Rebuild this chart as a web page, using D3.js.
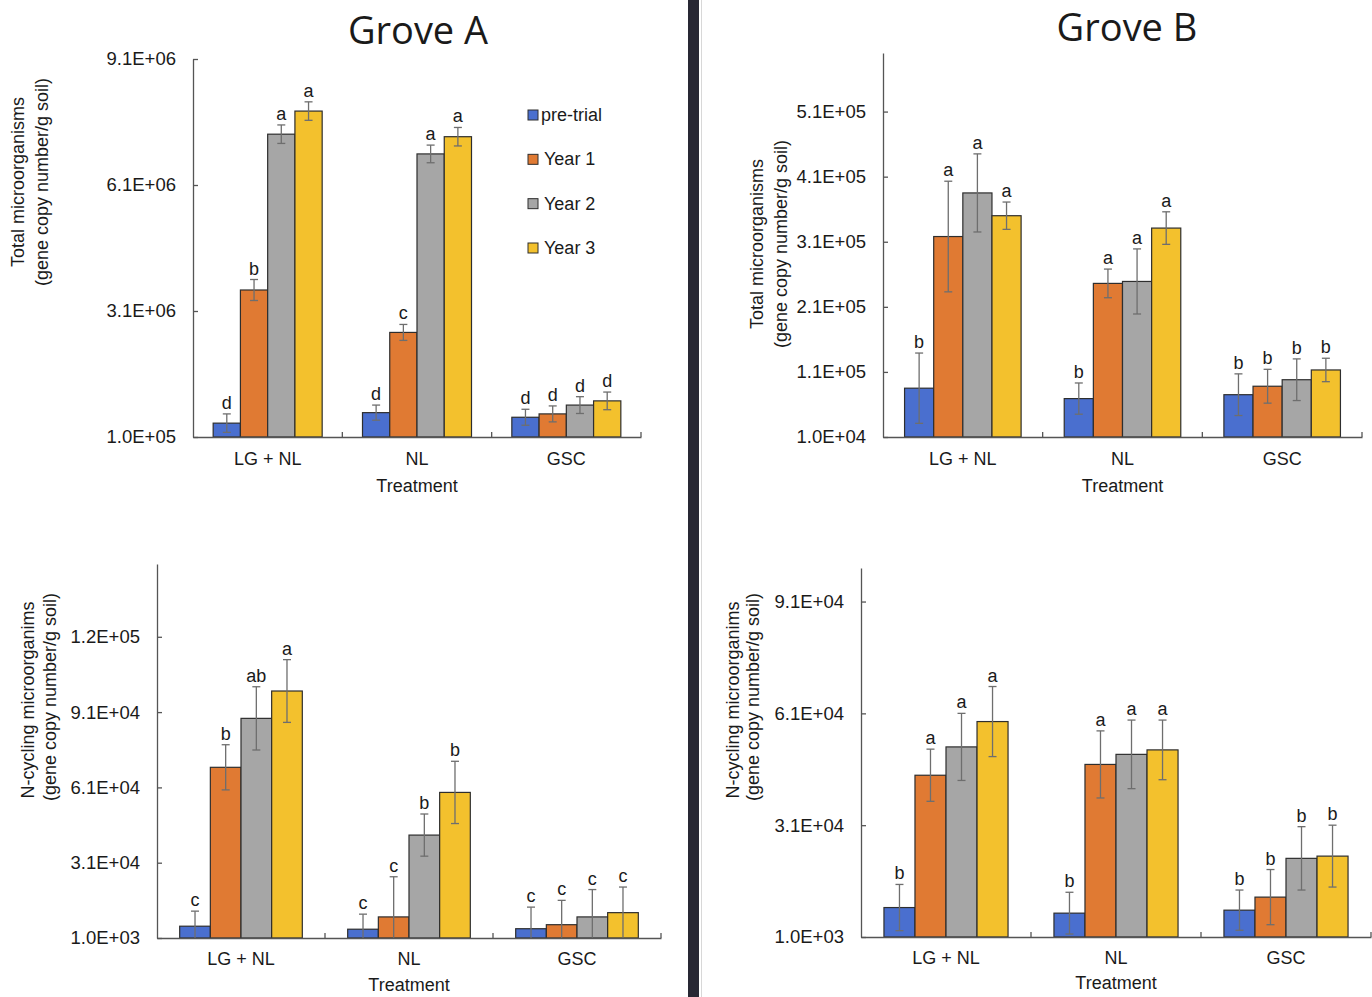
<!DOCTYPE html>
<html>
<head>
<meta charset="utf-8">
<script src="https://cdn.jsdelivr.net/npm/d3@7"></script>
<style>
  html, body { margin: 0; padding: 0; background: #fff; }
  svg { display: block; }
  text { font-family: "Liberation Sans", Arial, sans-serif; fill: #1a1a1a; }
</style>
</head>
<body>
<svg id="chart" width="1372" height="997"></svg>
<script>
// ---------------- DATA ----------------
const categories = ["LG + NL", "NL", "GSC"];
const seriesNames = ["pre-trial", "Year 1", "Year 2", "Year 3"];
const seriesColors = ["#4a6fcf", "#e07a33", "#a6a6a6", "#f3c12d"];
const panelTitles = ["Grove A", "Grove B"];
const totalTitle = ["Total microorganisms", "(gene copy number/g soil)"];
const ncycTitle = ["N-cycling microorganims", "(gene copy number/g soil)"];
const xTitle = "Treatment";

// Grove A – total microorganisms  [series][category]
const aTotalMeans = [[4.3e5, 6.8e5, 5.7e5], [3.6e6, 2.59e6, 6.5e5], [7.31e6, 6.84e6, 8.6e5], [7.86e6, 7.25e6, 9.6e5]];
const aTotalErrs  = [[2.2e5, 1.8e5, 1.9e5], [2.5e5, 1.9e5, 1.9e5], [2.2e5, 2.1e5, 2.0e5], [2.2e5, 2.2e5, 2.1e5]];
const aTotalLetters = [["d", "d", "d"], ["b", "c", "d"], ["a", "a", "d"], ["a", "a", "d"]];
const aTotalTicks = [1e5, 3.1e6, 6.1e6, 9.1e6];
const aTotalDomain = [1e5, 9.1e6];

// Grove B – total microorganisms
const bTotalMeans = [[8.5e4, 6.9e4, 7.5e4], [3.18e5, 2.46e5, 8.8e4], [3.85e5, 2.49e5, 9.8e4], [3.5e5, 3.31e5, 1.13e5]];
const bTotalErrs  = [[5.4e4, 2.4e4, 3.2e4], [8.5e4, 2.2e4, 2.6e4], [6.0e4, 5.0e4, 3.2e4], [2.1e4, 2.5e4, 1.8e4]];
const bTotalLetters = [["b", "b", "b"], ["a", "a", "b"], ["a", "a", "b"], ["a", "a", "b"]];
const bTotalTicks = [1e4, 1.1e5, 2.1e5, 3.1e5, 4.1e5, 5.1e5];
const bTotalDomain = [1e4, 6.0e5];

// Grove A – N-cycling microorganisms
const aNcycMeans = [[5.7e3, 4.5e3, 4.7e3], [6.9e4, 9.4e3, 6.3e3], [8.85e4, 4.2e4, 9.4e3], [9.94e4, 5.9e4, 1.11e4]];
const aNcycErrs  = [[6.0e3, 6.0e3, 8.6e3], [9.0e3, 1.6e4, 9.7e3], [1.26e4, 8.4e3, 1.09e4], [1.25e4, 1.24e4, 1.02e4]];
const aNcycLetters = [["c", "c", "c"], ["b", "c", "c"], ["ab", "b", "c"], ["a", "b", "c"]];
const aNcycTicks = [1e3, 3.1e4, 6.1e4, 9.1e4, 1.21e5];
const aNcycDomain = [1e3, 1.5e5];

// Grove B – N-cycling microorganisms
const bNcycMeans = [[8.9e3, 7.4e3, 8.2e3], [4.44e4, 4.73e4, 1.17e4], [5.2e4, 5.0e4, 2.21e4], [5.88e4, 5.12e4, 2.27e4]];
const bNcycErrs  = [[6.2e3, 5.6e3, 5.4e3], [7.0e3, 9.0e3, 7.4e3], [9.0e3, 9.2e3, 8.5e3], [9.4e3, 8.0e3, 8.3e3]];
const bNcycLetters = [["b", "b", "b"], ["a", "a", "b"], ["a", "a", "b"], ["a", "a", "b"]];
const bNcycTicks = [1e3, 3.1e4, 6.1e4, 9.1e4];
const bNcycDomain = [1e3, 1.0e5];

// ---------------- LAYOUT ----------------
const panels = [
  { means: aTotalMeans, errs: aTotalErrs, letters: aTotalLetters, ticks: aTotalTicks, domain: aTotalDomain, ytitle: totalTitle,
    x0: 193, x1: 641, yb: 437, yt: 59, t1: [18, 182], t2: [42, 182], catY: 465, trY: 492 },
  { means: bTotalMeans, errs: bTotalErrs, letters: bTotalLetters, ticks: bTotalTicks, domain: bTotalDomain, ytitle: totalTitle,
    x0: 883, x1: 1362, yb: 437, yt: 53, t1: [757, 244], t2: [781, 244], catY: 465, trY: 492 },
  { means: aNcycMeans, errs: aNcycErrs, letters: aNcycLetters, ticks: aNcycTicks, domain: aNcycDomain, ytitle: ncycTitle,
    x0: 157, x1: 661, yb: 938, yt: 564, t1: [28, 700], t2: [50, 697], catY: 965, trY: 991 },
  { means: bNcycMeans, errs: bNcycErrs, letters: bNcycLetters, ticks: bNcycTicks, domain: bNcycDomain, ytitle: ncycTitle,
    x0: 861, x1: 1371, yb: 937, yt: 568, t1: [733, 700], t2: [753, 697], catY: 964, trY: 989 }
];

const svg = d3.select("#chart");
const axisColor = "#555";

function fmtE(v) {
  const [m, e] = v.toExponential(1).split("e");
  return m + "E" + e[0] + e.slice(1).padStart(2, "0");
}

// divider between groves
svg.append("rect").attr("x", 688).attr("y", 0).attr("width", 11).attr("height", 997).attr("fill", "#282834");
svg.append("line").attr("x1", 701.5).attr("x2", 701.5).attr("y1", 0).attr("y2", 997).attr("stroke", "#d8d8d8").attr("stroke-width", 1);

// titles
svg.append("text").attr("x", 418).attr("y", 44).attr("text-anchor", "middle")
  .style("font-family", "'Open Sans', sans-serif").style("font-size", "38px").text(panelTitles[0]);
svg.append("text").attr("x", 1127).attr("y", 41).attr("text-anchor", "middle")
  .style("font-family", "'Open Sans', sans-serif").style("font-size", "38px").text(panelTitles[1]);

panels.forEach(p => {
  const g = svg.append("g");
  const y = d3.scaleLinear().domain(p.domain).range([p.yb, p.yt]);
  const x = d3.scaleBand().domain(categories).range([p.x0, p.x1]).padding(0);
  const xs = d3.scaleBand().domain(seriesNames).range([0, x.bandwidth()]).paddingInner(0).paddingOuter(0.74);

  // y axis
  const yAxis = d3.axisLeft(y).tickValues(p.ticks).tickFormat(fmtE)
    .tickSizeInner(-5).tickSizeOuter(0).tickPadding(17);
  const ya = g.append("g").attr("transform", `translate(${p.x0},0)`).call(yAxis);
  ya.select(".domain").attr("stroke", axisColor).attr("stroke-width", 1.3);
  ya.selectAll(".tick line").attr("stroke", axisColor).attr("stroke-width", 1.3);
  ya.selectAll(".tick text").style("font-size", "18.5px").attr("fill", "#1a1a1a");

  // bars
  p.means.forEach((row, si) => {
    row.forEach((v, ci) => {
      const bx = x(categories[ci]) + xs(seriesNames[si]);
      g.append("rect")
        .attr("x", bx).attr("y", y(v))
        .attr("width", xs.bandwidth()).attr("height", y(p.domain[0]) - y(v))
        .attr("fill", seriesColors[si]).attr("stroke", "#2e2e2e").attr("stroke-width", 1.2);
    });
  });

  // error bars + letters
  p.means.forEach((row, si) => {
    row.forEach((v, ci) => {
      const cx = x(categories[ci]) + xs(seriesNames[si]) + xs.bandwidth() / 2;
      const e = p.errs[si][ci];
      const hi = y(v + e);
      const lo = y(Math.max(v - e, p.domain[0]));
      g.append("line").attr("x1", cx).attr("x2", cx).attr("y1", hi).attr("y2", lo)
        .attr("stroke", "#6e6e6e").attr("stroke-width", 1.3);
      g.append("line").attr("x1", cx - 4).attr("x2", cx + 4).attr("y1", hi).attr("y2", hi)
        .attr("stroke", "#6e6e6e").attr("stroke-width", 1.3);
      if (v - e > p.domain[0]) {
        g.append("line").attr("x1", cx - 4).attr("x2", cx + 4).attr("y1", lo).attr("y2", lo)
          .attr("stroke", "#6e6e6e").attr("stroke-width", 1.3);
      }
      g.append("text").attr("x", cx).attr("y", hi - 5).attr("text-anchor", "middle")
        .style("font-size", "18px").text(p.letters[si][ci]);
    });
  });

  // x axis line and boundary ticks
  const xa = g.append("g").attr("transform", `translate(0,${p.yb})`)
    .call(d3.axisBottom(x).tickSize(0).tickPadding(0).tickFormat(""));
  xa.select(".domain").attr("stroke", axisColor).attr("stroke-width", 1.3);
  const bounds = categories.slice(1).map(c => x(c)).concat([x(categories[categories.length - 1]) + x.bandwidth()]);
  g.selectAll(null).data(bounds).enter().append("line")
    .attr("x1", d => d).attr("x2", d => d).attr("y1", p.yb).attr("y2", p.yb - 5)
    .attr("stroke", axisColor).attr("stroke-width", 1.3);

  // category labels
  categories.forEach(c => {
    g.append("text").attr("x", x(c) + x.bandwidth() / 2).attr("y", p.catY).attr("text-anchor", "middle")
      .style("font-size", "18px").text(c);
  });
  g.append("text").attr("x", (p.x0 + p.x1) / 2).attr("y", p.trY).attr("text-anchor", "middle")
    .style("font-size", "18px").text(xTitle);

  // y titles
  [p.t1, p.t2].forEach((pos, i) => {
    g.append("text").attr("transform", `translate(${pos[0]},${pos[1]}) rotate(-90)`)
      .attr("text-anchor", "middle").attr("dominant-baseline", "central")
      .style("font-size", "18px").text(p.ytitle[i]);
  });
});

// legend (Grove A, top)
const lg = svg.append("g");
const legendY = d3.scalePoint().domain(seriesNames).range([115, 248]);
seriesNames.forEach((s, i) => {
  lg.append("rect").attr("x", 528).attr("y", legendY(s) - 5).attr("width", 10).attr("height", 10)
    .attr("fill", seriesColors[i]).attr("stroke", "#2e2e2e").attr("stroke-width", 1);
  lg.append("text").attr("x", i === 0 ? 541 : 544).attr("y", legendY(s)).attr("dominant-baseline", "central")
    .style("font-size", "18px").text(s);
});
</script>
</body>
</html>
